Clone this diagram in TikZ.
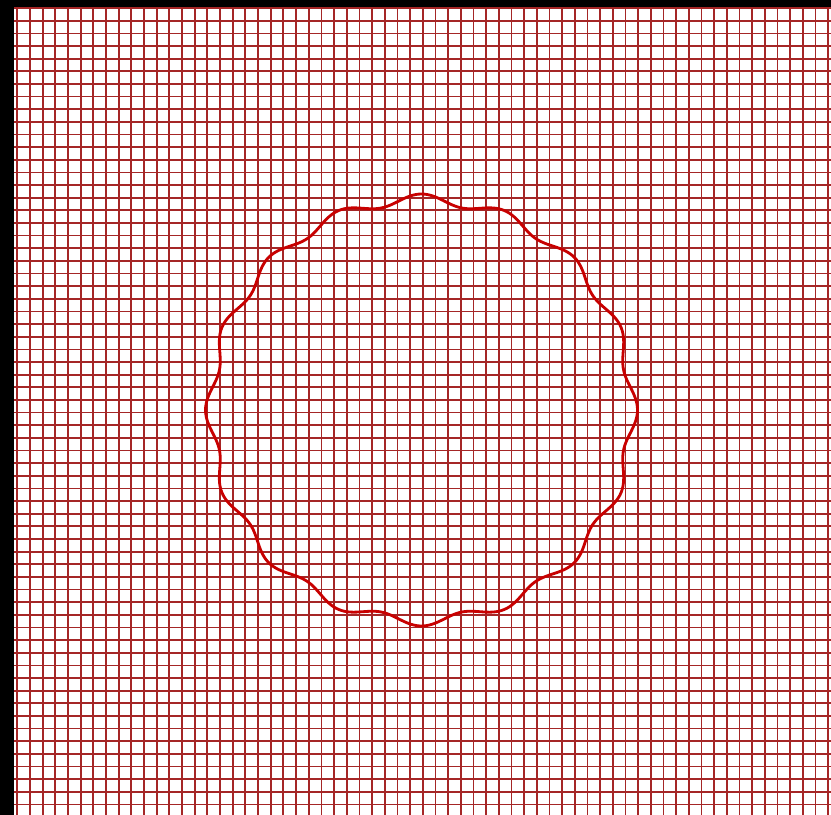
\documentclass[tikz,border=0pt]{standalone}
\usepackage{tikz}
\usepackage{xcolor}
\definecolor{GridRed}{RGB}{165,38,38}
\definecolor{FrontRed}{RGB}{200,0,0}

\begin{document}
\begin{tikzpicture}[
    x=0.03cm, y=-0.03cm,
    gridline/.style={draw=GridRed, line width=1.5pt},
    front/.style={draw=FrontRed, line width=2.4pt, line join=round}
]
    \useasboundingbox (0,0) rectangle (831,815);
    % black frame and white field
    \fill[black] (0,0) rectangle (831,815);
    \fill[white] (14,7) rectangle (831,815);

    % mesh
    \begin{scope}
        \clip (14,7) rectangle (831,815);
        \foreach \i in {0,...,64}
            \draw[gridline] ({17.3+12.67*\i},7) -- ({17.3+12.67*\i},815);
        \foreach \j in {0,...,63}
            \draw[gridline] (14,{8.1+12.64*\j}) -- (831,{8.1+12.64*\j});
    \end{scope}

    % interface
    \draw[front, shift={(421.5,410)}]
        plot[domain=0:360, samples=481, smooth] (\x:{211+5*cos(16*\x)}) -- cycle;
\end{tikzpicture}
\end{document}
